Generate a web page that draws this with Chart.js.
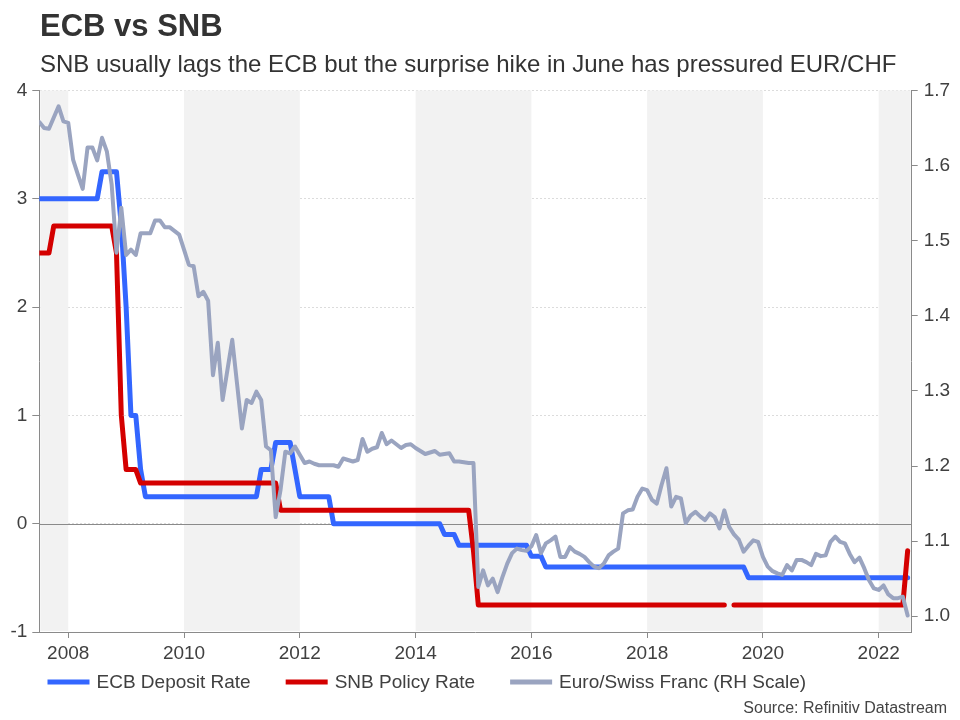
<!DOCTYPE html>
<html lang="en">
<head>
<meta charset="UTF-8" />
<title>ECB vs SNB</title>
<script src="https://cdn.jsdelivr.net/npm/chart.js@4.4.1/dist/chart.umd.min.js"></script>
<style>
    html, body { margin: 0; padding: 0; background: #fff; }
    #wrap { width: 960px; height: 720px; position: relative; }
</style>
</head>
<body>
<div id="wrap"><canvas id="chart"></canvas></div>
<script>
// monthly series, first value = end of June 2007, last = end of June 2022
const firstMonth = 2007.5;

const ecbRate = [
    3.00, 3.00, 3.00, 3.00, 3.00, 3.00, 3.00,                                 // 2007 Jun-Dec
    3.00, 3.00, 3.00, 3.00, 3.00, 3.00, 3.25, 3.25, 3.25, 3.25, 2.75, 2.00,   // 2008
    1.00, 1.00, 0.50, 0.25, 0.25, 0.25, 0.25, 0.25, 0.25, 0.25, 0.25, 0.25,   // 2009
    0.25, 0.25, 0.25, 0.25, 0.25, 0.25, 0.25, 0.25, 0.25, 0.25, 0.25, 0.25,   // 2010
    0.25, 0.25, 0.25, 0.50, 0.50, 0.50, 0.75, 0.75, 0.75, 0.75, 0.50, 0.25,   // 2011
    0.25, 0.25, 0.25, 0.25, 0.25, 0.25, 0.00, 0.00, 0.00, 0.00, 0.00, 0.00,   // 2012
    0.00, 0.00, 0.00, 0.00, 0.00, 0.00, 0.00, 0.00, 0.00, 0.00, 0.00, 0.00,   // 2013
    0.00, 0.00, 0.00, 0.00, 0.00, -0.10, -0.10, -0.10, -0.20, -0.20, -0.20, -0.20, // 2014
    -0.20, -0.20, -0.20, -0.20, -0.20, -0.20, -0.20, -0.20, -0.20, -0.20, -0.20, -0.30, // 2015
    -0.30, -0.30, -0.40, -0.40, -0.40, -0.40, -0.40, -0.40, -0.40, -0.40, -0.40, -0.40, // 2016
    -0.40, -0.40, -0.40, -0.40, -0.40, -0.40, -0.40, -0.40, -0.40, -0.40, -0.40, -0.40, // 2017
    -0.40, -0.40, -0.40, -0.40, -0.40, -0.40, -0.40, -0.40, -0.40, -0.40, -0.40, -0.40, // 2018
    -0.40, -0.40, -0.40, -0.40, -0.40, -0.40, -0.40, -0.40, -0.50, -0.50, -0.50, -0.50, // 2019
    -0.50, -0.50, -0.50, -0.50, -0.50, -0.50, -0.50, -0.50, -0.50, -0.50, -0.50, -0.50, // 2020
    -0.50, -0.50, -0.50, -0.50, -0.50, -0.50, -0.50, -0.50, -0.50, -0.50, -0.50, -0.50, // 2021
    -0.50, -0.50, -0.50, -0.50, -0.50, -0.50                                   // 2022 Jan-Jun
];

const snbRate = [
    2.50, 2.50, 2.50, 2.75, 2.75, 2.75, 2.75,                                 // 2007 Jun-Dec
    2.75, 2.75, 2.75, 2.75, 2.75, 2.75, 2.75, 2.75, 2.75, 2.50, 1.00, 0.50,   // 2008
    0.50, 0.50, 0.375, 0.375, 0.375, 0.375, 0.375, 0.375, 0.375, 0.375, 0.375, 0.375, // 2009
    0.375, 0.375, 0.375, 0.375, 0.375, 0.375, 0.375, 0.375, 0.375, 0.375, 0.375, 0.375, // 2010
    0.375, 0.375, 0.375, 0.375, 0.375, 0.375, 0.375, 0.125, 0.125, 0.125, 0.125, 0.125, // 2011
    0.125, 0.125, 0.125, 0.125, 0.125, 0.125, 0.125, 0.125, 0.125, 0.125, 0.125, 0.125, // 2012
    0.125, 0.125, 0.125, 0.125, 0.125, 0.125, 0.125, 0.125, 0.125, 0.125, 0.125, 0.125, // 2013
    0.125, 0.125, 0.125, 0.125, 0.125, 0.125, 0.125, 0.125, 0.125, 0.125, 0.125, -0.25, // 2014
    -0.75, -0.75, -0.75, -0.75, -0.75, -0.75, -0.75, -0.75, -0.75, -0.75, -0.75, -0.75, // 2015
    -0.75, -0.75, -0.75, -0.75, -0.75, -0.75, -0.75, -0.75, -0.75, -0.75, -0.75, -0.75, // 2016
    -0.75, -0.75, -0.75, -0.75, -0.75, -0.75, -0.75, -0.75, -0.75, -0.75, -0.75, -0.75, // 2017
    -0.75, -0.75, -0.75, -0.75, -0.75, -0.75, -0.75, -0.75, -0.75, -0.75, -0.75, -0.75, // 2018
    -0.75, -0.75, -0.75, -0.75, null, -0.75, -0.75, -0.75, -0.75, -0.75, -0.75, -0.75,  // 2019
    -0.75, -0.75, -0.75, -0.75, -0.75, -0.75, -0.75, -0.75, -0.75, -0.75, -0.75, -0.75, // 2020
    -0.75, -0.75, -0.75, -0.75, -0.75, -0.75, -0.75, -0.75, -0.75, -0.75, -0.75, -0.75, // 2021
    -0.75, -0.75, -0.75, -0.75, -0.75, -0.25                                   // 2022 Jan-Jun
];

const eurChf = [
    1.658, 1.650, 1.649, 1.664, 1.679, 1.659, 1.657,                                      // 2007 Jun-Dec
    1.608, 1.588, 1.569, 1.624, 1.624, 1.607, 1.637, 1.619, 1.575, 1.484, 1.544, 1.481,   // 2008
    1.488, 1.481, 1.510, 1.510, 1.510, 1.527, 1.527, 1.518, 1.518, 1.513, 1.508, 1.488,   // 2009
    1.468, 1.466, 1.426, 1.432, 1.420, 1.321, 1.364, 1.288, 1.328, 1.368, 1.309, 1.250,   // 2010
    1.288, 1.284, 1.299, 1.288, 1.226, 1.221, 1.132, 1.168, 1.219, 1.217, 1.226, 1.215,   // 2011
    1.204, 1.206, 1.203, 1.201, 1.201, 1.201, 1.201, 1.199, 1.210, 1.208, 1.206, 1.208,   // 2012
    1.236, 1.219, 1.223, 1.225, 1.244, 1.229, 1.234, 1.229, 1.224, 1.228, 1.229, 1.224,   // 2013
    1.220, 1.216, 1.218, 1.220, 1.215, 1.216, 1.217, 1.206, 1.206, 1.205, 1.204, 1.204,   // 2014
    1.039, 1.061, 1.041, 1.050, 1.032, 1.052, 1.070, 1.084, 1.090, 1.088, 1.087, 1.093,   // 2015
    1.108, 1.084, 1.097, 1.101, 1.106, 1.079, 1.079, 1.092, 1.086, 1.083, 1.079, 1.072,   // 2016
    1.066, 1.064, 1.070, 1.081, 1.086, 1.090, 1.137, 1.141, 1.142, 1.159, 1.170, 1.168,   // 2017
    1.155, 1.150, 1.175, 1.197, 1.146, 1.159, 1.157, 1.124, 1.134, 1.139, 1.133, 1.128,   // 2018
    1.137, 1.132, 1.117, 1.141, 1.119, 1.109, 1.102, 1.086, 1.094, 1.101, 1.099, 1.079,   // 2019
    1.066, 1.060, 1.057, 1.055, 1.068, 1.061, 1.075, 1.075, 1.072, 1.068, 1.083, 1.080,   // 2020
    1.081, 1.099, 1.106, 1.099, 1.097, 1.083, 1.072, 1.078, 1.064, 1.048, 1.037, 1.035,   // 2021
    1.041, 1.029, 1.024, 1.024, 1.026, 1.001                                              // 2022 Jan-Jun
];

const seriesNames = ['ECB Deposit Rate', 'SNB Policy Rate', 'Euro/Swiss Franc (RH Scale)'];
const seriesColors = ['#3366ff', '#d40000', '#9aa4c0'];

const xTicks = [2008, 2010, 2012, 2014, 2016, 2018, 2020, 2022];
const leftTicks = [-1, 0, 1, 2, 3, 4];
const rightTicks = [1.0, 1.1, 1.2, 1.3, 1.4, 1.5, 1.6, 1.7];
const shadedStarts = [2006, 2010, 2014, 2018, 2022];   // grey bands, two years each

const FONT = '"Liberation Sans", Arial, sans-serif';

function toPoints(values) {
    return values.map((v, i) => ({ x: firstMonth + i / 12, y: v }));
}

// bands, zero line, titles, legend and source line
const decor = {
    id: 'decor',
    beforeDatasetsDraw(chart) {
        const { ctx, chartArea: a, scales } = chart;
        ctx.save();
        ctx.fillStyle = '#f2f2f2';
        shadedStarts.forEach(s => {
            const x0 = Math.max(scales.x.getPixelForValue(s), a.left + 1);
            const x1 = Math.min(scales.x.getPixelForValue(s + 2), a.right - 1);
            if (x1 > x0) ctx.fillRect(x0, a.top, x1 - x0, a.bottom - a.top - 1);
        });
        const y0 = Math.round(scales.y.getPixelForValue(0)) + 0.5;
        ctx.strokeStyle = '#8a8a8a';
        ctx.lineWidth = 1;
        ctx.beginPath();
        ctx.moveTo(a.left, y0);
        ctx.lineTo(a.right, y0);
        ctx.stroke();
        ctx.restore();
    },
    afterDraw(chart) {
        const ctx = chart.ctx;
        ctx.save();
        ctx.textBaseline = 'alphabetic';
        ctx.fillStyle = '#333';
        ctx.font = 'bold 31px ' + FONT;
        ctx.fillText('ECB vs SNB', 40, 36);
        ctx.font = '24px ' + FONT;
        ctx.fillText('SNB usually lags the ECB but the surprise hike in June has pressured EUR/CHF', 40, 72);

        // legend
        ctx.font = '19px ' + FONT;
        ctx.textBaseline = 'middle';
        let x = 47.5;
        const y = 682;
        seriesNames.forEach((name, i) => {
            ctx.strokeStyle = seriesColors[i];
            ctx.lineWidth = 5;
            ctx.beginPath();
            ctx.moveTo(x, y);
            ctx.lineTo(x + 42, y);
            ctx.stroke();
            ctx.fillStyle = '#404040';
            ctx.fillText(name, x + 49, y + 1);
            x += 49 + ctx.measureText(name).width + 35;
        });

        ctx.font = '16px ' + FONT;
        ctx.textAlign = 'right';
        ctx.fillStyle = '#444';
        ctx.fillText('Source: Refinitiv Datastream', 947, 709);
        ctx.restore();
    }
};

const tickFont = { family: FONT, size: 19 };

new Chart(document.getElementById('chart'), {
    type: 'line',
    data: {
        datasets: [
            {
                label: seriesNames[0],
                data: toPoints(ecbRate),
                borderColor: seriesColors[0],
                borderWidth: 5,
                yAxisID: 'y',
                order: 2
            },
            {
                label: seriesNames[1],
                data: toPoints(snbRate),
                borderColor: seriesColors[1],
                borderWidth: 5,
                yAxisID: 'y',
                order: 1
            },
            {
                label: seriesNames[2],
                data: toPoints(eurChf),
                borderColor: seriesColors[2],
                borderWidth: 4,
                yAxisID: 'y1',
                order: 0
            }
        ]
    },
    options: {
        responsive: true,
        maintainAspectRatio: false,
        animation: false,
        layout: { padding: { top: 90.5, bottom: 58, left: 0, right: 0 } },
        elements: {
            point: { radius: 0 },
            line: { tension: 0, borderCapStyle: 'round', borderJoinStyle: 'round', fill: false }
        },
        plugins: {
            legend: { display: false },
            tooltip: { enabled: false }
        },
        scales: {
            x: {
                type: 'linear',
                min: 2007.5,
                max: 2022.57,
                afterBuildTicks: s => { s.ticks = xTicks.map(v => ({ value: v })); },
                afterFit: s => { s.height = 30; },
                ticks: {
                    font: tickFont,
                    color: '#404040',
                    padding: 4,
                    maxRotation: 0,
                    callback: v => String(v)
                },
                grid: { drawOnChartArea: false, drawTicks: true, tickLength: 6, tickColor: '#8a8a8a' },
                border: { display: true, color: '#8a8a8a' }
            },
            y: {
                position: 'left',
                min: -1,
                max: 4,
                afterBuildTicks: s => { s.ticks = leftTicks.map(v => ({ value: v })); },
                afterFit: s => { s.width = 39.3; },
                ticks: { font: tickFont, color: '#404040', padding: 5 },
                grid: {
                    color: '#dcdcdc',
                    tickColor: '#8a8a8a',
                    tickLength: 7,
                    tickBorderDash: [],
                    drawTicks: true
                },
                border: { display: true, color: '#8a8a8a', dash: [2, 2] }
            },
            y1: {
                position: 'right',
                min: 0.979,
                max: 1.7,
                afterBuildTicks: s => { s.ticks = rightTicks.map(v => ({ value: v })); },
                afterFit: s => { s.width = 48.3; },
                ticks: { font: tickFont, color: '#404040', padding: 6, callback: v => v.toFixed(1) },
                grid: { drawOnChartArea: false, drawTicks: true, tickLength: 6, tickColor: '#8a8a8a' },
                border: { display: true, color: '#8a8a8a' }
            }
        }
    },
    plugins: [decor]
});
</script>
</body>
</html>
